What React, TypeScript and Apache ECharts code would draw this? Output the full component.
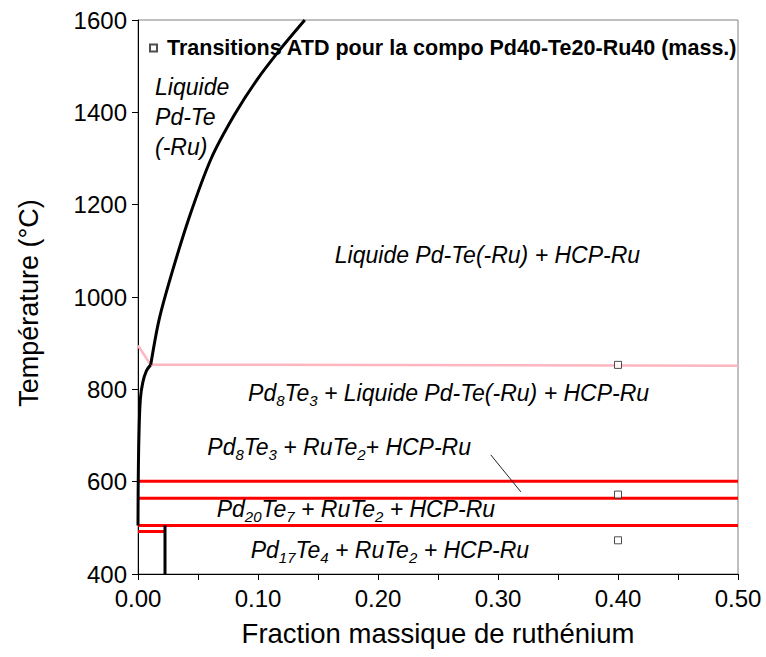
import React, { useEffect, useRef } from "react";
import * as echarts from "echarts";

const FONT = "'Liberation Sans', Arial, sans-serif";

// Liquidus, lower part (black curve) : [fraction Ru, T °C]
const liquidusLow: [number, number][] = [
  [0, 505], [0.0002, 600], [0.0008, 700], [0.002, 780], [0.004, 815], [0.007, 840], [0.0106, 853],
];
// Liquidus, upper part
const liquidusHigh: [number, number][] = [
  [0.0106, 853], [0.0175, 950], [0.028, 1050], [0.043, 1175], [0.061, 1300],
  [0.08, 1393], [0.099, 1470], [0.119, 1538], [0.139, 1600],
];
// Pink line
const pinkLine: [number, number][] = [[0, 895], [0.0106, 853], [0.1, 853], [0.5, 851]];
// Red isotherms
const redLines: [number, number][][] = [
  [[0, 601], [0.5, 601]],
  [[0, 564], [0.5, 564]],
  [[0, 505], [0.5, 505]],
  [[0, 492], [0.0225, 492]],
];
// Black vertical line
const verticalLine: [number, number][] = [[0.0225, 505], [0.0225, 400]];
// Annotation pointer
const pointerLine: [number, number][] = [[0.294, 658], [0.319, 578]];
// DTA transitions
const dtaName = "Transitions ATD pour la compo Pd40-Te20-Ru40 (mass.)";
const dtaPoints: [number, number][] = [[0.4, 853], [0.4, 572], [0.4, 473]];
// Region labels
const regionLabels: { pos: [number, number]; text: string }[] = [
  { pos: [0.0142, 1390], text: "{n|Liquide}\n{n|Pd-Te}\n{n|(-Ru)}" },
  { pos: [0.164, 1091], text: "{n|Liquide Pd-Te(-Ru) + HCP-Ru}" },
  { pos: [0.0917, 792], text: "{n|Pd}{s|8}{n|Te}{s|3}{n| + Liquide Pd-Te(-Ru) + HCP-Ru}" },
  { pos: [0.0578, 676], text: "{n|Pd}{s|8}{n|Te}{s|3}{n| + RuTe}{s|2}{n|+ HCP-Ru}" },
  { pos: [0.0656, 541], text: "{n|Pd}{s|20}{n|Te}{s|7}{n| + RuTe}{s|2}{n| + HCP-Ru}" },
  { pos: [0.0939, 452], text: "{n|Pd}{s|17}{n|Te}{s|4}{n| + RuTe}{s|2}{n| + HCP-Ru}" },
];

const lineSeries = (data: [number, number][], color: string, width: number, z = 2, smooth: number | boolean = false) => ({
  type: "line",
  data,
  showSymbol: false,
  symbol: "none",
  silent: true,
  smooth,
  z,
  lineStyle: { color, width },
});

export default function App() {
  const ref = useRef<HTMLDivElement>(null);
  useEffect(() => {
    if (!ref.current) return;
    const chart = echarts.init(ref.current, undefined, { renderer: "svg" });
    chart.setOption({
      animation: false,
      backgroundColor: "#fff",
      textStyle: { fontFamily: FONT },
      grid: {
        left: 138, top: 20, width: 600, height: 554,
        show: true, borderColor: "#808080", borderWidth: 1, backgroundColor: "transparent",
      },
      legend: {
        data: [dtaName],
        left: 144, top: 32,
        itemWidth: 7, itemHeight: 7,
        icon: "rect",
        itemGap: 6,
        textStyle: { fontFamily: FONT, fontWeight: "bold", fontSize: 21.5, color: "#000", padding: [0, 0, 0, 5] },
      },
      xAxis: {
        type: "value", min: 0, max: 0.5, interval: 0.05,
        name: "Fraction massique de ruthénium",
        nameLocation: "middle", nameGap: 45,
        nameTextStyle: { fontSize: 27.5, color: "#000", fontFamily: FONT },
        axisLine: { lineStyle: { color: "#000", width: 1 } },
        axisTick: { show: true, length: 6, lineStyle: { color: "#000" } },
        splitLine: { show: false },
        axisLabel: {
          fontSize: 24, color: "#000", margin: 12, fontFamily: FONT,
          formatter: (v: number) => (Math.round(v * 100) % 10 === 0 ? v.toFixed(2) : ""),
        },
      },
      yAxis: {
        type: "value", min: 400, max: 1600, interval: 200,
        name: "Température (°C)",
        nameLocation: "middle", nameGap: 96, nameRotate: 90,
        nameTextStyle: { fontSize: 27, color: "#000", fontFamily: FONT, padding: [0, 12, 0, 0] },
        axisLine: { show: true, lineStyle: { color: "#000", width: 1 } },
        axisTick: { show: true, length: 6, lineStyle: { color: "#000" } },
        splitLine: { show: false },
        axisLabel: { fontSize: 24, color: "#000", margin: 11, fontFamily: FONT, formatter: (v: number) => String(v) },
      },
      series: [
        lineSeries(pinkLine, "#ffb6c1", 2.5, 2),
        ...redLines.map((d) => lineSeries(d, "#ff0000", 3, 3)),
        lineSeries(verticalLine, "#000", 3, 4),
        lineSeries(liquidusLow, "#000", 3, 4, 0.4),
        lineSeries(liquidusHigh, "#000", 3, 4, 0.3),
        lineSeries(pointerLine, "#222", 1, 4),
        {
          type: "scatter",
          name: dtaName,
          data: dtaPoints,
          symbol: "rect",
          symbolSize: 7,
          z: 6,
          itemStyle: { color: "#fff", borderColor: "#222", borderWidth: 1 },
        },
        {
          type: "scatter",
          name: "labels",
          data: regionLabels.map((r) => ({ value: r.pos, text: r.text })),
          symbolSize: 0,
          silent: true,
          z: 7,
          label: {
            show: true,
            position: "right",
            distance: 0,
            color: "#000",
            opacity: 1,
            formatter: (p: any) => p.data.text,
            rich: {
              n: { fontSize: 23, fontStyle: "italic", color: "#000", fontFamily: FONT, lineHeight: 30 },
              s: { fontSize: 15, fontStyle: "italic", color: "#000", fontFamily: FONT, lineHeight: 16, verticalAlign: "bottom" },
            },
          },
        },
      ],
    });
    return () => chart.dispose();
  }, []);
  return <div ref={ref} style={{ position: "fixed", left: 0, top: 0, width: 766, height: 657 }} />;
}
